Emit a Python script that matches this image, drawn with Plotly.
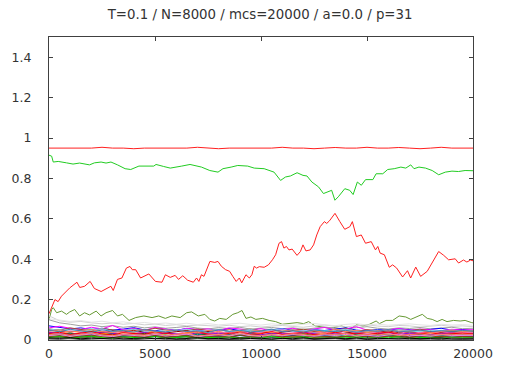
import plotly.graph_objects as go

TITLE = "T=0.1 / N=8000 / mcs=20000 / a=0.0 / p=31"
X_TICKS = [0, 5000, 10000, 15000, 20000]
Y_TICKS = [0, 0.2, 0.4, 0.6, 0.8, 1.0, 1.2, 1.4]

# sampling grid (mcs) for the order-parameter series of the minor patterns
MCS = list(range(0, 20001, 500))

# pattern 1: retrieved pattern, nearly constant overlap
OVERLAP_1 = [0.950, 0.950, 0.953, 0.950, 0.950, 0.954, 0.950, 0.950, 0.947, 0.950,
             0.950, 0.953, 0.950, 0.950, 0.954, 0.950, 0.947, 0.950, 0.950, 0.953,
             0.950, 0.950, 0.954, 0.950, 0.950, 0.947, 0.950, 0.953, 0.950, 0.950,
             0.954, 0.950, 0.950, 0.953, 0.950, 0.947, 0.950, 0.954, 0.950, 0.950,
             0.950]

# pattern 2 (mcs, overlap)
OVERLAP_2 = [(0, 0.915), (126, 0.91), (200, 0.881), (434, 0.884), (825, 0.877), (1133, 0.871),
             (1445, 0.876), (1911, 0.867), (2144, 0.877), (2457, 0.881), (2690, 0.876),
             (2923, 0.881), (3231, 0.867), (3590, 0.848), (3855, 0.844), (4089, 0.856),
             (4242, 0.861), (4942, 0.861), (5049, 0.869), (5408, 0.859), (5720, 0.851),
             (6261, 0.861), (6653, 0.869), (7193, 0.856), (7585, 0.839), (7972, 0.831),
             (8205, 0.848), (8592, 0.856), (8904, 0.864), (9371, 0.861), (9683, 0.851),
             (10149, 0.848), (10616, 0.831), (10923, 0.79), (11156, 0.807), (11389, 0.812),
             (11702, 0.828), (11981, 0.815), (12168, 0.812), (12401, 0.782), (12713, 0.758),
             (12946, 0.725), (13180, 0.733), (13333, 0.741), (13487, 0.692), (13646, 0.709),
             (13953, 0.749), (14186, 0.741), (14345, 0.72), (14545, 0.782), (14732, 0.766),
             (14932, 0.794), (15277, 0.794), (15431, 0.823), (15744, 0.823), (15977, 0.844),
             (16284, 0.848), (16597, 0.856), (16830, 0.851), (17063, 0.867), (17217, 0.848),
             (17450, 0.856), (17762, 0.851), (18075, 0.839), (18382, 0.818), (18694, 0.831),
             (19007, 0.836), (19315, 0.834), (19627, 0.839), (20000, 0.838)]

# pattern 3 (mcs, overlap)
OVERLAP_3 = [(0, 0.13), (150, 0.17), (280, 0.20), (430, 0.19), (590, 0.217), (980, 0.258),
             (1320, 0.286), (1450, 0.26), (1680, 0.266), (1940, 0.29), (2140, 0.255),
             (2460, 0.24), (2920, 0.266), (3030, 0.245), (3230, 0.30), (3440, 0.307),
             (3650, 0.356), (3820, 0.364), (3930, 0.348), (4090, 0.348), (4320, 0.307),
             (4710, 0.327), (5020, 0.29), (5330, 0.286), (5490, 0.323), (5720, 0.31),
             (5950, 0.32), (6110, 0.30), (6310, 0.318), (6540, 0.296), (6810, 0.286),
             (6960, 0.307), (7070, 0.29), (7190, 0.323), (7310, 0.315), (7590, 0.389),
             (7820, 0.384), (7970, 0.389), (8130, 0.365), (8330, 0.348), (8520, 0.34),
             (8670, 0.315), (8830, 0.29), (8980, 0.307), (9090, 0.283), (9290, 0.323),
             (9450, 0.307), (9570, 0.323), (9680, 0.365), (9790, 0.356), (9920, 0.363),
             (10150, 0.36), (10350, 0.372), (10540, 0.397), (10690, 0.422), (10850, 0.479),
             (10970, 0.487), (11080, 0.455), (11200, 0.463), (11320, 0.446), (11470, 0.45),
             (11700, 0.419), (11860, 0.438), (11980, 0.471), (12120, 0.441), (12320, 0.446),
             (12480, 0.471), (12630, 0.52), (12790, 0.561), (12990, 0.586), (13100, 0.577),
             (13230, 0.59), (13490, 0.627), (13720, 0.586), (13950, 0.548), (14190, 0.561),
             (14310, 0.586), (14500, 0.512), (14730, 0.52), (14930, 0.479), (15200, 0.487),
             (15400, 0.446), (15510, 0.463), (15620, 0.43), (15820, 0.422), (16050, 0.36),
             (16210, 0.372), (16400, 0.356), (16680, 0.312), (16910, 0.343), (17060, 0.307),
             (17300, 0.361), (17530, 0.315), (17840, 0.34), (18080, 0.381), (18380, 0.438),
             (18620, 0.419), (18850, 0.397), (19160, 0.402), (19320, 0.381), (19550, 0.396),
             (19710, 0.386), (19890, 0.396), (20000, 0.392)]

# pattern 4 (mcs, overlap)
OVERLAP_4 = [(0, 0.10), (126, 0.151), (200, 0.16), (359, 0.135), (592, 0.143), (825, 0.127),
             (979, 0.139), (1212, 0.151), (1445, 0.119), (1678, 0.135), (1911, 0.124),
             (2224, 0.143), (2457, 0.119), (2690, 0.135), (2998, 0.146), (3231, 0.119),
             (3464, 0.127), (3776, 0.097), (4089, 0.111), (4476, 0.119), (4862, 0.111),
             (5175, 0.119), (5487, 0.107), (5795, 0.119), (6187, 0.111), (6494, 0.135),
             (6727, 0.139), (7040, 0.119), (7352, 0.127), (7585, 0.102), (7818, 0.094),
             (8051, 0.107), (8359, 0.102), (8671, 0.127), (8904, 0.135), (9105, 0.146),
             (9291, 0.107), (9524, 0.114), (9757, 0.102), (10070, 0.107), (10382, 0.097),
             (10690, 0.091), (11002, 0.078), (11315, 0.081), (11702, 0.086), (12014, 0.081),
             (12247, 0.091), (12555, 0.07), (12867, 0.065), (13254, 0.058), (13413, 0.061),
             (13800, 0.07), (14186, 0.053), (14499, 0.075), (14811, 0.07), (15119, 0.078),
             (15431, 0.094), (15585, 0.081), (15898, 0.097), (16210, 0.097), (16517, 0.119),
             (16830, 0.114), (17063, 0.102), (17296, 0.114), (17608, 0.127), (17841, 0.107),
             (18075, 0.102), (18308, 0.091), (18541, 0.102), (18774, 0.091), (19082, 0.097),
             (19394, 0.094), (19627, 0.097), (19939, 0.086), (20000, 0.085)]

# remaining patterns: overlaps in units of 1e-3 on the MCS grid
MINOR = [
    ("#d0d0d0", [120, 95, 88, 92, 85, 80, 84, 78, 82, 75, 79, 72, 76, 70, 74, 71, 68, 73, 66, 70, 64, 69, 72, 67, 63, 70, 74, 68, 65, 71, 75, 69, 66, 72, 70, 64, 68, 73, 67, 70, 66]),
    ("#e4e4e4", [105, 98, 92, 96, 88, 93, 85, 90, 82, 87, 80, 84, 78, 83, 76, 81, 75, 79, 83, 77, 74, 80, 76, 72, 78, 82, 75, 71, 77, 81, 74, 79, 73, 77, 80, 75, 72, 78, 74, 76, 73]),
    ("#a0a0a0", [100, 85, 78, 70, 74, 66, 71, 63, 68, 60, 65, 58, 62, 67, 59, 55, 61, 57, 63, 54, 58, 62, 56, 60, 53, 57, 64, 59, 55, 61, 66, 58, 54, 60, 57, 62, 55, 59, 63, 56, 58]),
    ("#0000ff", [70, 62, 55, 60, 52, 58, 49, 54, 61, 50, 46, 53, 48, 57, 51, 44, 49, 55, 47, 52, 45, 50, 56, 48, 43, 51, 47, 54, 60, 49, 45, 52, 48, 55, 50, 46, 53, 58, 49, 52, 47]),
    ("#ff00ff", [60, 68, 58, 52, 63, 55, 72, 50, 57, 48, 62, 54, 46, 58, 51, 55, 47, 60, 53, 49, 56, 44, 51, 58, 47, 53, 62, 50, 55, 66, 49, 45, 52, 57, 48, 54, 50, 46, 53, 49, 51]),
    ("#00ffff", [45, 52, 40, 48, 55, 42, 38, 46, 51, 40, 36, 44, 49, 41, 37, 45, 52, 43, 39, 47, 42, 36, 44, 50, 41, 38, 46, 43, 49, 40, 37, 45, 51, 42, 39, 46, 41, 48, 43, 40, 44]),
    ("#a0522d", [55, 48, 60, 52, 45, 57, 50, 43, 54, 47, 58, 51, 44, 49, 55, 46, 52, 41, 48, 54, 45, 50, 43, 47, 53, 46, 40, 49, 56, 44, 51, 47, 42, 50, 46, 53, 45, 41, 48, 44, 47]),
    ("#ffa500", [35, 42, 30, 38, 44, 33, 29, 40, 36, 31, 43, 34, 28, 37, 41, 32, 27, 36, 42, 30, 35, 39, 29, 33, 44, 31, 36, 40, 28, 34, 38, 30, 35, 41, 32, 29, 37, 33, 39, 31, 34]),
    ("#8b0000", [50, 44, 39, 47, 42, 36, 45, 40, 48, 38, 43, 35, 41, 46, 37, 42, 34, 39, 45, 36, 40, 33, 38, 44, 35, 41, 37, 48, 39, 34, 42, 38, 45, 36, 40, 35, 43, 37, 41, 38, 40]),
    ("#ffe000", [25, 30, 22, 28, 33, 24, 20, 29, 26, 21, 31, 23, 18, 27, 32, 22, 19, 28, 24, 30, 21, 26, 17, 25, 29, 20, 24, 31, 22, 18, 27, 23, 28, 19, 25, 21, 30, 24, 20, 26, 23]),
    ("#006400", [30, 26, 34, 22, 29, 25, 32, 21, 27, 33, 24, 19, 28, 23, 31, 26, 20, 29, 24, 35, 22, 27, 18, 25, 30, 23, 28, 21, 33, 26, 19, 27, 24, 30, 22, 28, 25, 20, 29, 23, 26]),
    ("#ff69b4", [40, 35, 46, 38, 32, 44, 36, 41, 33, 39, 45, 34, 30, 42, 37, 31, 40, 35, 47, 33, 38, 43, 31, 36, 41, 34, 39, 30, 44, 37, 33, 40, 36, 42, 31, 38, 35, 41, 34, 37, 36]),
    ("#000080", [20, 16, 24, 14, 19, 22, 15, 18, 25, 13, 17, 21, 12, 19, 23, 15, 18, 14, 22, 17, 20, 13, 16, 24, 15, 19, 21, 12, 18, 23, 14, 17, 20, 16, 22, 13, 19, 15, 21, 17, 18]),
    ("#808000", [15, 19, 12, 17, 21, 13, 16, 11, 18, 14, 20, 12, 15, 19, 10, 16, 13, 18, 11, 17, 14, 21, 12, 15, 19, 13, 16, 10, 18, 14, 17, 12, 20, 15, 11, 16, 14, 19, 13, 15, 14]),
    ("#9400d3", [38, 31, 27, 35, 29, 40, 33, 26, 31, 37, 28, 34, 30, 25, 36, 29, 33, 27, 38, 30, 26, 34, 31, 28, 37, 32, 25, 35, 29, 33, 27, 31, 36, 28, 34, 30, 26, 32, 35, 29, 31]),
    ("#008080", [28, 23, 31, 19, 26, 22, 29, 17, 24, 27, 20, 25, 16, 23, 28, 21, 18, 26, 22, 30, 19, 24, 17, 27, 21, 25, 20, 28, 18, 23, 26, 19, 24, 21, 27, 17, 22, 25, 20, 23, 22]),
    ("#87ceeb", [55, 47, 52, 44, 49, 56, 42, 48, 53, 45, 40, 50, 46, 54, 43, 48, 51, 41, 47, 52, 44, 49, 55, 42, 46, 50, 43, 48, 53, 45, 41, 49, 44, 51, 47, 42, 48, 45, 50, 43, 46]),
    ("#8b4513", [18, 22, 15, 20, 24, 17, 13, 21, 19, 16, 23, 14, 18, 22, 12, 17, 20, 15, 25, 18, 14, 21, 16, 19, 23, 13, 17, 20, 15, 22, 18, 14, 19, 21, 16, 20, 13, 18, 22, 17, 19]),
    ("#ff0000", [32, 38, 27, 35, 41, 30, 25, 36, 33, 28, 39, 31, 26, 34, 40, 29, 24, 33, 37, 28, 31, 42, 27, 32, 36, 26, 30, 38, 29, 34, 27, 33, 39, 30, 25, 32, 36, 28, 31, 34, 30]),
    ("#00dd00", [12, 16, 9, 14, 18, 11, 8, 15, 13, 10, 17, 9, 12, 16, 7, 13, 11, 15, 8, 14, 10, 17, 9, 12, 15, 8, 11, 14, 10, 16, 9, 13, 11, 15, 8, 12, 14, 10, 13, 11, 12]),
    ("#ff7f50", [44, 50, 39, 46, 53, 41, 37, 48, 43, 51, 38, 45, 49, 40, 36, 47, 42, 52, 39, 44, 48, 37, 43, 50, 41, 46, 38, 54, 42, 47, 39, 45, 51, 40, 43, 48, 37, 44, 49, 41, 45]),
    ("#ee82ee", [22, 27, 19, 25, 30, 21, 17, 26, 23, 19, 28, 20, 24, 29, 18, 23, 26, 20, 31, 22, 18, 25, 21, 27, 23, 19, 26, 22, 28, 20, 24, 18, 25, 29, 21, 23, 19, 26, 22, 24, 23]),
    ("#4682b4", [48, 41, 53, 45, 38, 50, 43, 47, 39, 52, 44, 40, 49, 42, 46, 37, 51, 43, 48, 40, 45, 54, 41, 46, 39, 50, 44, 42, 48, 38, 47, 43, 52, 40, 45, 49, 41, 46, 43, 47, 44]),
    ("#556b2f", [8, 12, 6, 10, 14, 7, 9, 13, 5, 11, 8, 12, 6, 10, 15, 7, 9, 11, 6, 13, 8, 10, 5, 12, 9, 7, 11, 14, 6, 10, 8, 12, 7, 9, 13, 6, 10, 8, 11, 9, 10]),
    ("#fa8072", [26, 31, 23, 28, 34, 25, 21, 30, 27, 24, 32, 22, 28, 33, 20, 26, 29, 23, 35, 25, 21, 28, 24, 31, 26, 22, 30, 27, 33, 23, 29, 25, 31, 22, 27, 30, 24, 28, 26, 29, 27]),
    ("#505050", [5, 3, 7, 2, 4, 6, 3, 5, 2, 4, 7, 3, 5, 2, 6, 4, 3, 5, 2, 6, 3, 4, 7, 2, 5, 3, 4, 6, 2, 5, 3, 4, 2, 6, 3, 5, 4, 2, 5, 3, 4]),
    ("#000000", [10, 8, 12, 6, 9, 7, 11, 5, 8, 10, 6, 9, 4, 7, 11, 6, 8, 5, 10, 7, 9, 4, 8, 6, 11, 5, 7, 9, 6, 10, 4, 8, 7, 5, 9, 6, 8, 10, 5, 7, 6]),
]

fig = go.Figure()


def add_line(xs, ys, color):
    fig.add_trace(go.Scatter(x=xs, y=ys, mode="lines", showlegend=False, hoverinfo="skip",
                             line=dict(color=color, width=1)))


add_line(MCS, OVERLAP_1, "#ff2020")
add_line([p[0] for p in OVERLAP_2], [p[1] for p in OVERLAP_2], "#22cc22")
add_line([p[0] for p in OVERLAP_3], [p[1] for p in OVERLAP_3], "#ff2020")
add_line([p[0] for p in OVERLAP_4], [p[1] for p in OVERLAP_4], "#669933")
for color, vals in MINOR:
    add_line(MCS, [v / 1000 for v in vals], color)

axis_common = dict(showline=True, linecolor="#404040", linewidth=1, mirror="allticks",
                   ticks="inside", ticklen=4, tickcolor="#404040", showgrid=False,
                   zeroline=False, tickfont=dict(family="DejaVu Sans", size=12.5, color="#333"))

fig.update_layout(
    width=505, height=373,
    margin=dict(l=49, r=27, t=37, b=31),
    paper_bgcolor="white", plot_bgcolor="white",
    title=dict(text=TITLE, x=0.515, xanchor="center", y=0.962, yanchor="middle",
               font=dict(family="DejaVu Sans", size=13.3, color="#333")),
    xaxis=dict(range=[0, 20000], tickvals=X_TICKS, ticktext=[str(v) for v in X_TICKS],
               ticklabelstandoff=2, **axis_common),
    yaxis=dict(range=[0, 1.5], tickvals=Y_TICKS, ticktext=[f"{v:g}" for v in Y_TICKS],
               ticklabelstandoff=14, **axis_common),
)

fig.write_html("out.html")
